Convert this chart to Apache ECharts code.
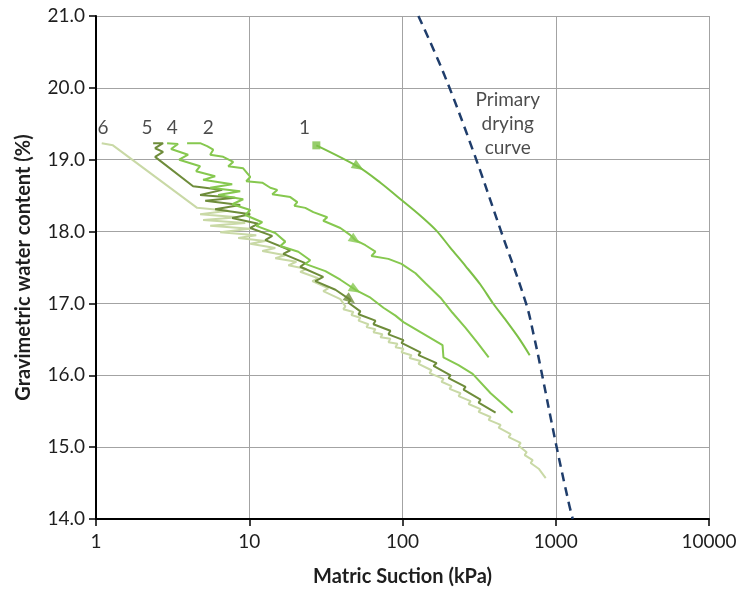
<!DOCTYPE html>
<html>
<head>
<meta charset="utf-8">
<script src="https://cdn.jsdelivr.net/npm/echarts@6/dist/echarts.min.js"></script>
<style>
  html, body { margin: 0; padding: 0; background: #ffffff; }
  #chart { width: 740px; height: 593px; }
</style>
</head>
<body>
<div id="chart"></div>
<script>
// Wetting/drying paths: matric suction (kPa) and gravimetric water content (%)
const suction1 = [27.4, 51.6, 71.8, 98.5, 131, 167, 206, 258, 323, 387, 471, 573, 676];
const water1   = [19.20, 18.90, 18.68, 18.44, 18.22, 18.01, 17.77, 17.52, 17.26, 17.01, 16.77, 16.52, 16.28];

const suction2 = [3.93, 4.78, 5.31, 5.82, 5.56, 6.76, 7.86, 7.29, 9.13, 10.15, 9.56, 12.16, 13.72, 15.24, 14.13, 18.53, 20.59, 19.68, 23.2, 26.2, 32.3, 30.4, 39.3, 45.7, 49.3, 57.3, 66.6, 62.7, 80.9, 98.5, 121.6, 141.3, 177, 212, 258, 309, 365];
const water2   = [19.23, 19.23, 19.19, 19.14, 19.07, 19.04, 18.97, 18.91, 18.88, 18.76, 18.70, 18.68, 18.61, 18.58, 18.52, 18.48, 18.41, 18.36, 18.33, 18.27, 18.20, 18.15, 18.05, 17.95, 17.88, 17.81, 17.72, 17.66, 17.62, 17.55, 17.42, 17.28, 17.08, 16.87, 16.66, 16.45, 16.25];

const suction4 = [2.91, 3.43, 3.09, 3.99, 3.49, 4.78, 4.50, 5.99, 5.00, 7.74, 5.56, 8.73, 6.27, 9.13, 7.74, 10.15, 9.42, 12.16, 11.11, 14.79, 17.19, 15.94, 20.9, 25.0, 23.2, 31.4, 39.3, 49.3, 61.8, 75.1, 90.0, 101.5, 131, 182.5, 185, 232, 287, 376, 523];
const water4   = [19.23, 19.22, 19.15, 19.07, 19.00, 18.91, 18.84, 18.77, 18.72, 18.66, 18.61, 18.56, 18.51, 18.45, 18.38, 18.30, 18.23, 18.13, 18.08, 17.98, 17.86, 17.80, 17.72, 17.60, 17.55, 17.45, 17.33, 17.19, 17.08, 16.94, 16.83, 16.74, 16.60, 16.42, 16.25, 16.14, 16.02, 15.75, 15.48];

const suction5 = [2.36, 2.74, 2.43, 2.74, 2.43, 4.30, 5.16, 6.66, 4.78, 8.10, 5.16, 8.73, 5.99, 10.15, 7.74, 11.45, 10.15, 14.13, 12.72, 18.53, 16.67, 23.2, 21.5, 30.4, 27.0, 36.5,
                  45.7, 44.4, 53.1, 51.6, 66.6, 64.6, 83.4, 81.0, 101.5, 98.5, 131.1, 127.2, 167, 159.4, 206, 199.8, 258, 250.3, 323, 313.8, 405];
const water5   = [19.23, 19.23, 19.16, 19.11, 19.04, 18.63, 18.61, 18.58, 18.51, 18.47, 18.43, 18.37, 18.31, 18.24, 18.19, 18.11, 18.05, 17.94, 17.88, 17.74, 17.69, 17.56, 17.51, 17.37, 17.31, 17.19,
                  17.05, 17.01, 16.89, 16.85, 16.76, 16.71, 16.62, 16.57, 16.49, 16.45, 16.32, 16.28, 16.17, 16.13, 16.00, 15.96, 15.84, 15.80, 15.66, 15.62, 15.48];

const suction6 = [1.09, 1.29, 4.57, 7.29, 4.78, 8.47, 5.00, 9.42, 5.56, 10.15, 6.46, 11.11, 8.47, 12.72, 10.15, 14.79, 12.16, 17.19, 14.79, 20.3, 17.98, 23.6, 21.5, 28.2, 25.8, 32.8, 30.4, 39.3,
                  42.4, 41.1, 47.8, 46.4, 53.1, 51.6, 59.9, 58.2, 66.6, 64.6, 74.0, 71.8, 83.4, 81.0, 92.7, 90.0, 101.5, 98.5, 114.5, 111.1, 131.1, 127.2, 154.7, 150.2, 185.3, 179.8,
                  209.0, 202.8, 239.3, 232.3, 278.2, 269.9, 323.4, 313.8, 375.9, 364.8, 437.0, 424.0, 507.9, 492.8, 590.2, 572.9, 646.0, 626.9, 707.1, 686.2, 773.9, 859.8];
const water6   = [19.23, 19.20, 18.33, 18.29, 18.24, 18.20, 18.16, 18.12, 18.08, 18.04, 17.99, 17.95, 17.91, 17.87, 17.83, 17.77, 17.73, 17.67, 17.63, 17.58, 17.53, 17.48, 17.44, 17.35, 17.31, 17.21, 17.17, 17.06,
                  16.96, 16.92, 16.88, 16.84, 16.80, 16.76, 16.71, 16.67, 16.64, 16.60, 16.57, 16.53, 16.51, 16.46, 16.44, 16.39, 16.37, 16.32, 16.28, 16.24, 16.20, 16.16, 16.07, 16.03,
                  15.95, 15.91, 15.85, 15.81, 15.75, 15.71, 15.64, 15.60, 15.53, 15.49, 15.42, 15.38, 15.31, 15.27, 15.18, 15.14, 15.06, 15.02, 14.93, 14.89, 14.82, 14.78, 14.70, 14.57];

// Primary drying curve
const suctionDry = [127, 185, 287, 437, 640, 718, 798, 1000, 1217, 1291];
const waterDry   = [21.0, 20.21, 19.14, 18.02, 17.0, 16.56, 16.1, 15.06, 14.22, 14.0];

// Path numbers written above the starting points
const pathNames       = ['6', '5', '4', '2', '1'];
const pathNameSuction = [1.11, 2.15, 3.14, 5.4, 22.9];
const pathNameWater   = [19.44, 19.44, 19.44, 19.44, 19.44];

const dryingLabel = 'Primary\ndrying\ncurve';
const dryingLabelAt = [486, 19.50];

// X axis decade labels
const xTicks = [1, 10, 100, 1000, 10000];

const zip = (xs, ys) => xs.map((x, i) => [x, ys[i]]);

const FONT = 'Lato, "Open Sans", "Liberation Sans", sans-serif';
const C_BRIGHT = '#86c84f';
const C_BRIGHT2 = '#7cc046';
const C_DARK = '#6e8c3a';
const C_PALE = '#c9d9a6';
const C_DRY = '#1f3d6b';
const C_TEXT = '#1e1e1e';

function pathSeries(name, xs, ys, color, z, smooth) {
  return {
    name: name, type: 'line', data: zip(xs, ys), showSymbol: false, symbol: 'none',
    smooth: smooth || false,
    lineStyle: { color: color, width: 2 }, z: z, silent: true, animation: false
  };
}

function arrowSeries(xs, ys, idx, color, rot) {
  return {
    type: 'scatter', data: [[xs[idx], ys[idx]]], symbol: 'triangle', symbolSize: [10, 12],
    symbolRotate: rot, itemStyle: { color: color }, z: 6, silent: true, animation: false
  };
}

const chart = echarts.init(document.getElementById('chart'), null, { renderer: 'canvas' });

chart.setOption({
  animation: false,
  backgroundColor: '#ffffff',
  grid: { left: 96, right: 31, top: 16, bottom: 74, containLabel: false },
  xAxis: {
    type: 'log', logBase: 10, min: 1, max: 10000,
    name: 'Matric Suction (kPa)', nameLocation: 'middle', nameGap: 48,
    nameTextStyle: { fontFamily: FONT, fontSize: 20, fontWeight: 'bold', color: C_TEXT },
    axisLine: { show: true, onZero: false, lineStyle: { color: '#000', width: 2 } },
    axisTick: { show: true, inside: false, length: 7, lineStyle: { color: '#000', width: 1.5 } },
    minorTick: { show: false },
    axisLabel: {
      fontFamily: FONT, fontSize: 19, color: C_TEXT, margin: 13,
      formatter: v => (xTicks.indexOf(Math.round(v)) >= 0 ? String(Math.round(v)) : '')
    },
    splitLine: { show: true, lineStyle: { color: '#a3a3a3', width: 1 } }
  },
  yAxis: {
    type: 'value', min: 14, max: 21, interval: 1,
    name: 'Gravimetric water content (%)', nameLocation: 'middle', nameGap: 62,
    nameTextStyle: { fontFamily: FONT, fontSize: 20, fontWeight: 'bold', color: C_TEXT },
    axisLine: { show: true, onZero: false, lineStyle: { color: '#000', width: 2 } },
    axisTick: { show: true, inside: false, length: 7, lineStyle: { color: '#000', width: 1.5 } },
    axisLabel: { fontFamily: FONT, fontSize: 19, color: C_TEXT, margin: 11, formatter: v => v.toFixed(1) },
    splitLine: { show: true, lineStyle: { color: '#a3a3a3', width: 1 } }
  },
  series: [
    pathSeries('6', suction6, water6, C_PALE, 2),
    pathSeries('5', suction5, water5, C_DARK, 3),
    pathSeries('4', suction4, water4, C_BRIGHT, 4),
    pathSeries('2', suction2, water2, C_BRIGHT, 4),
    pathSeries('1', suction1, water1, C_BRIGHT2, 4, 0.3),
    {
      name: 'Primary drying curve', type: 'line', data: zip(suctionDry, waterDry),
      showSymbol: false, symbol: 'none', smooth: 0.4,
      lineStyle: { color: C_DRY, width: 2.5, type: [9, 6] }, z: 5, silent: true
    },
    // start marker of path 1
    {
      type: 'scatter', data: [[suction1[0], water1[0]]], symbol: 'rect', symbolSize: 8,
      itemStyle: { color: C_BRIGHT2 }, z: 6, silent: true
    },
    arrowSeries(suction1, water1, 1, C_BRIGHT2, -121),
    arrowSeries(suction2, water2, 24, C_BRIGHT, -124),
    arrowSeries(suction4, water4, 27, C_BRIGHT, -121),
    arrowSeries(suction5, water5, 26, C_DARK, -128),
    // path numbers
    {
      type: 'scatter', symbolSize: 0, silent: true, z: 7,
      data: pathNames.map((n, i) => ({ value: [pathNameSuction[i], pathNameWater[i]], name: n })),
      label: {
        show: true, position: 'inside', formatter: p => p.name,
        fontFamily: FONT, fontSize: 19, color: C_TEXT
      }
    },
    {
      type: 'scatter', symbolSize: 0, silent: true, z: 7,
      data: [{ value: dryingLabelAt, name: dryingLabel }],
      label: {
        show: true, position: 'inside', formatter: p => p.name, align: 'center',
        fontFamily: FONT, fontSize: 19, lineHeight: 24, color: C_TEXT
      }
    }
  ]
});
</script>
</body>
</html>
